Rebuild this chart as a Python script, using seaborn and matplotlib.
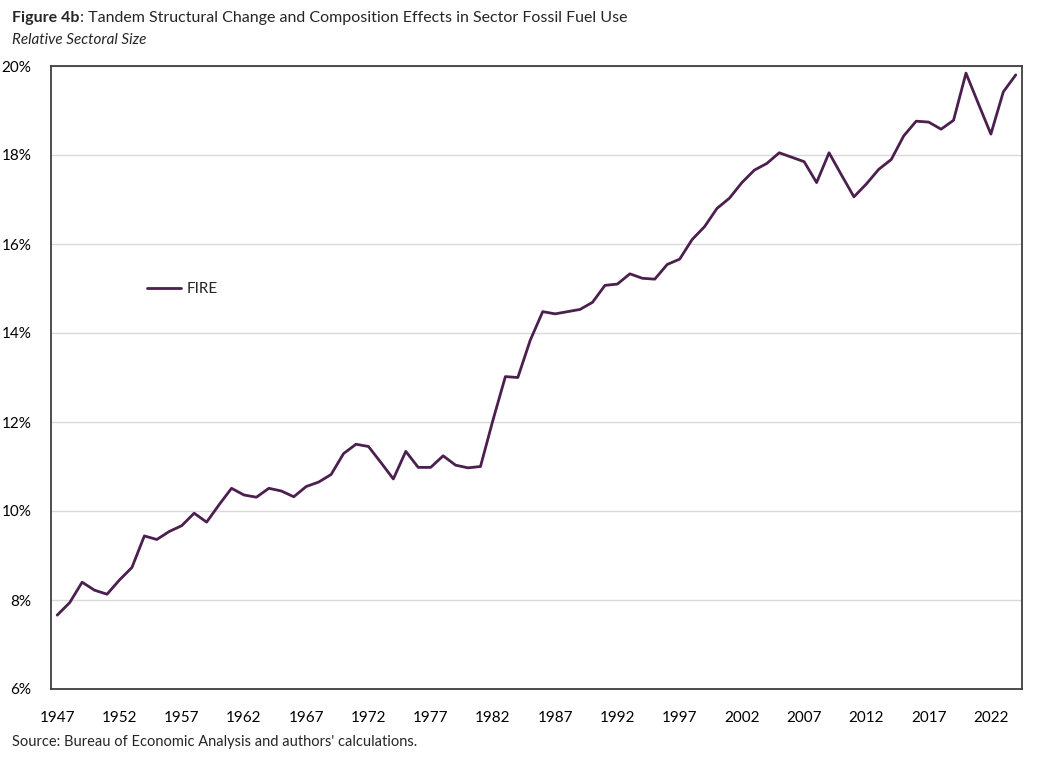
import numpy as np
import pandas as pd
import seaborn as sns
import matplotlib.pyplot as plt
from matplotlib.ticker import PercentFormatter

# FIRE share of output (percent)
years = list(range(1947, 2025))
fire_share = [
    7.66, 7.94, 8.40, 8.22, 8.13, 8.45, 8.73, 9.44, 9.36, 9.54,   # 1947-1956
    9.67, 9.95, 9.75, 10.14, 10.51, 10.36, 10.31, 10.51, 10.45, 10.32,  # 1957-1966
    10.55, 10.65, 10.82, 11.29, 11.50, 11.45, 11.09, 10.72, 11.34, 10.98,  # 1967-1976
    10.98, 11.24, 11.03, 10.97, 11.00, 12.04, 13.02, 13.00, 13.84, 14.48,  # 1977-1986
    14.43, 14.48, 14.53, 14.69, 15.07, 15.10, 15.33, 15.23, 15.21, 15.54,  # 1987-1996
    15.66, 16.10, 16.39, 16.80, 17.03, 17.38, 17.66, 17.81, 18.05, 17.95,  # 1997-2006
    17.85, 17.38, 18.05, 17.55, 17.06, 17.35, 17.68, 17.90, 18.43, 18.76,  # 2007-2016
    18.74, 18.58, 18.78, 19.84, 19.15, 18.47, 19.42, 19.80,              # 2017-2024
]
xtick_years = list(range(1947, 2025, 5))
ytick_vals = [6, 8, 10, 12, 14, 16, 18, 20]

df = pd.DataFrame({'year': years, 'share': fire_share})

sns.set_theme(style='white')
plt.rcParams['font.family'] = ['Lato', 'DejaVu Sans']

fig = plt.figure(figsize=(10.44, 7.58), dpi=100)
ax = fig.add_axes([51/1044, 1 - 689/758, (1022 - 51)/1044, (689 - 66)/758])

line_color = '#4B1F4E'
sns.lineplot(data=df, x='year', y='share', ax=ax, color=line_color, linewidth=2, label='FIRE')

ax.set_xlim(1946.5, 2024.5)
ax.set_ylim(6, 20)
ax.set_xticks(xtick_years)
ax.set_yticks(ytick_vals)
ax.yaxis.set_major_formatter(PercentFormatter(decimals=0))
ax.grid(axis='y', color='#D9D9D9', linewidth=1)
ax.set_axisbelow(True)
for s in ax.spines.values():
    s.set_color('#3F3F3F')
    s.set_linewidth(1.3)
ax.tick_params(axis='both', length=0, labelsize=11, colors='#000000')
ax.tick_params(axis='x', pad=16)
ax.tick_params(axis='y', pad=14)
ax.set_xlabel('')
ax.set_ylabel('')

leg = ax.legend(loc='center left', bbox_to_anchor=(0.085, 0.642), frameon=False,
                fontsize=11, handlelength=2.2, handletextpad=0.4)

# title: bold prefix + regular remainder
t1 = fig.text(12/1044, 1 - 18/758, 'Figure 4b', fontsize=11.5, fontweight='bold', va='center')
fig.canvas.draw()
bb = t1.get_window_extent(renderer=fig.canvas.get_renderer())
fig.text(bb.x1 / 1044, 1 - 18/758, ': Tandem Structural Change and Composition Effects in Sector Fossil Fuel Use',
         fontsize=11.5, va='center')
fig.text(12/1044, 1 - 40/758, 'Relative Sectoral Size', fontsize=11, style='italic', va='center')
fig.text(12/1044, 1 - 742/758, "Source: Bureau of Economic Analysis and authors' calculations.",
         fontsize=10.5, va='center')

fig.savefig('out.png', dpi=100)
